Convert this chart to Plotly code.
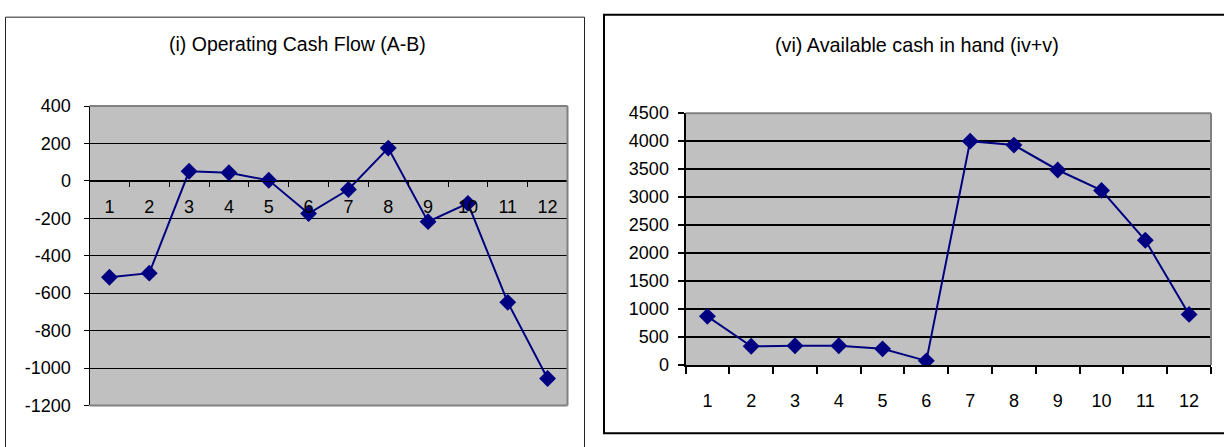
import plotly.graph_objects as go

W, H = 1224, 447

months = ["1", "2", "3", "4", "5", "6", "7", "8", "9", "10", "11", "12"]
operating_cash_flow = [-515, -493, 51, 43, 3, -175, -46, 175, -218, -120, -649, -1056]
available_cash = [870, 335, 345, 345, 290, 75, 4000, 3930, 3485, 3120, 2230, 905]

left_ticks = [400, 200, 0, -200, -400, -600, -800, -1000, -1200]
left_tick_text = ["400", "200", "0", "-200", "-400", "-600", "-800", "-1000", "-1200"]
right_ticks = [0, 500, 1000, 1500, 2000, 2500, 3000, 3500, 4000, 4500]

title_left = "(i) Operating Cash Flow (A-B)"
title_right = "(vi) Available cash in hand (iv+v)"

FONT = "Liberation Sans, Arial, sans-serif"
NAVY = "#000080"

def px(x):
    return x / W

def py(y):
    return 1 - y / H

fig = go.Figure()

fig.add_trace(go.Scatter(
    x=months, y=operating_cash_flow, xaxis="x", yaxis="y",
    mode="lines+markers",
    line=dict(color=NAVY, width=2),
    marker=dict(symbol="diamond", size=13, color=NAVY),
    showlegend=False, hoverinfo="skip"))

fig.add_trace(go.Scatter(
    x=months, y=available_cash, xaxis="x2", yaxis="y2",
    mode="lines+markers",
    line=dict(color=NAVY, width=2),
    marker=dict(symbol="diamond", size=13, color=NAVY),
    showlegend=False, hoverinfo="skip"))

# geometry (pixels)
L_x0, L_x1, L_ytop, L_ybot = 89.5, 567.5, 100.5, 414
R_x0, R_x1, R_ytop, R_ybot = 685.5, 1211, 108, 371.7

ly0, ly1 = py(L_ybot), py(L_ytop)
zero_pos = ly0 + (0 - (-1200)) / (400 - (-1200)) * (ly1 - ly0)

tickfont = dict(family=FONT, size=18, color="black")

fig.update_layout(
    width=W, height=H,
    margin=dict(l=0, r=0, t=0, b=0),
    paper_bgcolor="white",
    plot_bgcolor="#C0C0C0",
    font=dict(family=FONT, color="black"),
    xaxis=dict(
        domain=[px(L_x0), px(L_x1)], anchor="free", position=zero_pos,
        type="category", range=[-0.5, 11.5], tickson="boundaries",
        ticks="outside", ticklen=5, tickwidth=1, tickcolor="black",
        showline=True, linecolor="black", linewidth=1,
        showgrid=False, tickfont=tickfont, ticklabelstandoff=10,
        fixedrange=True),
    yaxis=dict(
        domain=[ly0, ly1], anchor="x",
        range=[-1200, 400], tickmode="array",
        tickvals=left_ticks, ticktext=left_tick_text,
        ticks="outside", ticklen=5, tickwidth=1, tickcolor="black",
        showline=True, linecolor="black", linewidth=1,
        showgrid=True, gridcolor="black", gridwidth=1,
        zeroline=False, tickfont=tickfont, ticklabelstandoff=9,
        fixedrange=True),
    xaxis2=dict(
        domain=[px(R_x0), px(R_x1)], anchor="y2",
        type="category", range=[-0.5, 11.5], tickson="boundaries",
        ticks="outside", ticklen=7, tickwidth=2, tickcolor="black",
        showline=True, linecolor="black", linewidth=2,
        showgrid=False, tickfont=tickfont, ticklabelstandoff=18,
        fixedrange=True),
    yaxis2=dict(
        domain=[py(R_ybot), py(R_ytop)], anchor="x2",
        range=[0, 4500], tickmode="array", tickvals=right_ticks,
        ticks="outside", ticklen=6, tickwidth=2, tickcolor="black",
        showline=True, linecolor="black", linewidth=2,
        showgrid=True, gridcolor="black", gridwidth=2,
        zeroline=False, tickfont=tickfont, ticklabelstandoff=5,
        fixedrange=True),
    annotations=[
        dict(text=title_left, xref="paper", yref="paper",
             x=px(297.5), y=py(36), xanchor="center", yanchor="middle",
             showarrow=False, font=dict(family=FONT, size=19.5, color="black")),
        dict(text=title_right, xref="paper", yref="paper",
             x=px(916.5), y=py(37), xanchor="center", yanchor="middle",
             showarrow=False, font=dict(family=FONT, size=19.8, color="black")),
    ],
    shapes=[
        # plot-area borders (grey)
        dict(type="line", xref="x domain", yref="y domain", x0=0, x1=1, y0=1, y1=1,
             line=dict(color="#808080", width=2)),
        dict(type="line", xref="x domain", yref="y domain", x0=1, x1=1, y0=0, y1=1,
             line=dict(color="#808080", width=2)),
        dict(type="line", xref="x domain", yref="y domain", x0=0, x1=1, y0=0, y1=0,
             line=dict(color="#808080", width=2)),
        dict(type="line", xref="x2 domain", yref="y2 domain", x0=0, x1=1, y0=1, y1=1,
             line=dict(color="#808080", width=2)),
        dict(type="line", xref="x2 domain", yref="y2 domain", x0=1, x1=1, y0=0, y1=1,
             line=dict(color="#808080", width=2)),
        # chart frames
        dict(type="rect", xref="paper", yref="paper",
             x0=px(5.5), x1=px(584.5), y0=py(460), y1=py(7.5),
             line=dict(color="#222222", width=1), layer="below"),
        dict(type="rect", xref="paper", yref="paper",
             x0=px(604), x1=px(1240), y0=py(443), y1=py(5),
             line=dict(color="black", width=2), layer="below"),
    ],
)

fig.write_html("out.html")
